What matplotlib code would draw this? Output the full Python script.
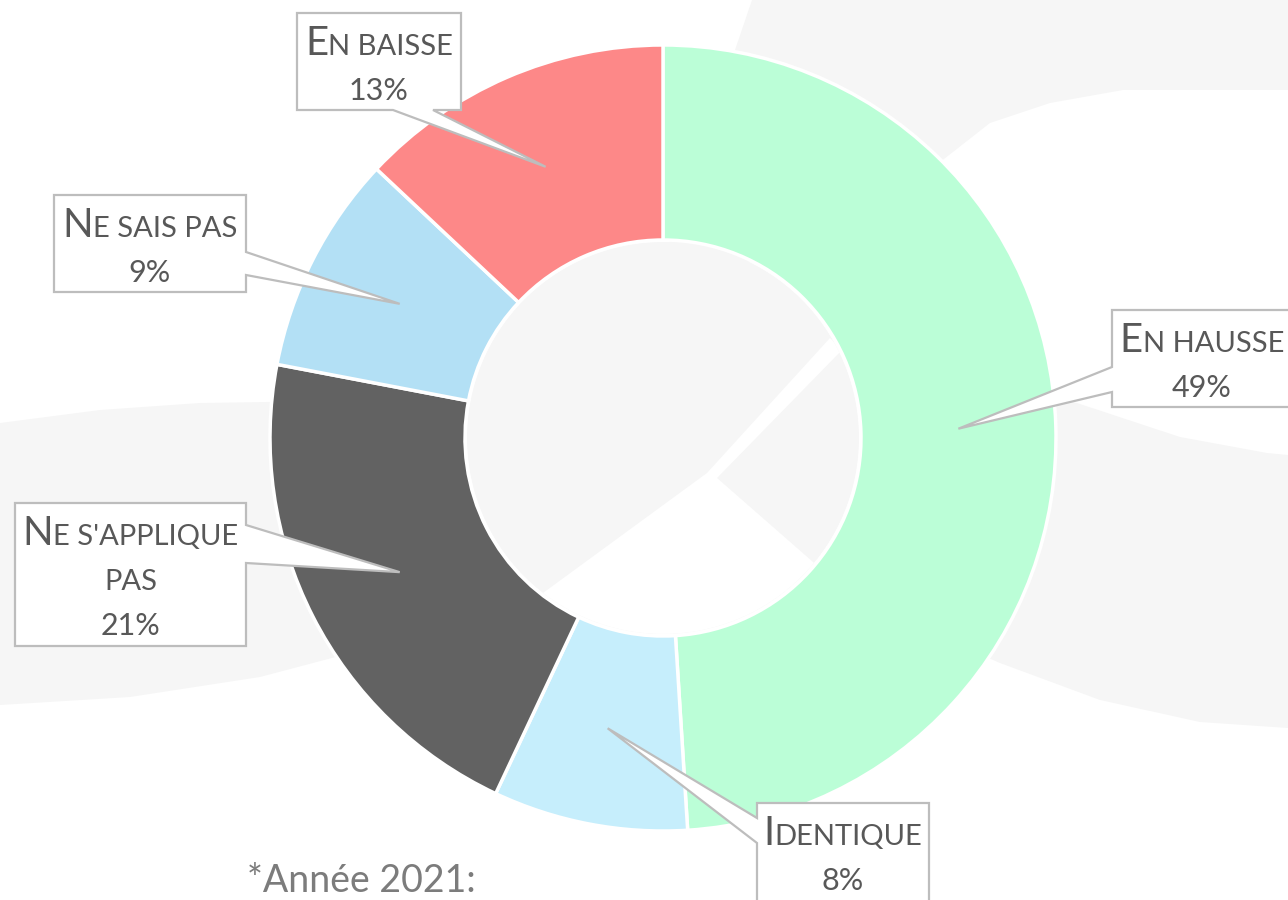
import matplotlib.pyplot as plt
from matplotlib.patches import Polygon, Circle
import numpy as np
import textwrap

# data
categories = ["En hausse", "Identique", "Ne s'applique pas", "Ne sais pas", "En baisse"]
values = [49, 8, 21, 9, 13]
colors = ["#bbfed7", "#c6eefc", "#626262", "#b3e0f5", "#fd8888"]
footnote = "*Année 2021:"

# layout (pixels, y going down)
W, H = 1288, 900
CX, CY = 663, 438
R_OUT, R_IN = 393, 198
# callout boxes: (left, top, right, bottom), side of pointer, base span on that side
boxes = {
    "En hausse": ((1112, 310, 1292, 407), "left", (367, 392)),
    "Identique": ((757, 803, 929, 910), "left", (818, 843)),
    "Ne s'applique pas": ((15, 503, 246, 646), "right", (525, 563)),
    "Ne sais pas": ((54, 195, 246, 292), "right", (252, 275)),
    "En baisse": ((297, 13, 461, 110), "bottom", (393, 433)),
}
TXT = "#585858"
EDGE = "#bdbdbd"
BG = "#f6f6f6"
FONT = "Lato"


def P(x, y):
    return (x, H - y)


def poly(pts, **kw):
    return Polygon([P(x, y) for x, y in pts], closed=True, **kw)


fig = plt.figure(figsize=(12.88, 9), dpi=100)
ax = fig.add_axes([0, 0, 1, 1])

# decorative background swooshes
ax.add_patch(poly([(0, 423), (100, 410), (200, 403), (400, 400), (400, 640),
                   (260, 677), (130, 697), (0, 705)], fc=BG, ec="none", zorder=0))
ax.add_patch(poly([(752, 0), (1288, 0), (1288, 90), (1123, 90), (1050, 103), (990, 123),
                   (930, 170), (892, 207), (650, 300)], fc=BG, ec="none", zorder=0))
ax.add_patch(poly([(950, 380), (1077, 403), (1180, 437), (1267, 453), (1288, 455),
                   (1288, 728), (1200, 722), (1100, 700), (1000, 663), (900, 620)],
                  fc=BG, ec="none", zorder=0))

# donut
wedges, _ = ax.pie(values, colors=colors, startangle=90, counterclock=False,
                   radius=R_OUT, center=P(CX, CY),
                   wedgeprops=dict(width=R_OUT - R_IN, edgecolor="white", linewidth=2.5))
for w in wedges:
    w.set_zorder(2)

hole = Circle(P(CX, CY), R_IN - 2, fc=BG, ec="none", zorder=1)
ax.add_patch(hole)
sw = poly([(470, 660), (543, 593), (707, 473), (830, 338), (842, 350), (717, 478),
           (813, 562), (900, 640), (900, 700), (470, 700)], fc="white", ec="none", zorder=1.5)
ax.add_patch(sw)
sw.set_clip_path(hole)

ax.set_xlim(0, W)
ax.set_ylim(0, H)
ax.set_aspect("auto")
ax.axis("off")

renderer = fig.canvas.get_renderer()


def draw_line(cx, base, parts):
    txts = [ax.text(0, H - base, s, fontsize=sz, va="baseline", ha="left",
                    color=TXT, family=FONT, zorder=5) for s, sz in parts]
    widths = [t.get_window_extent(renderer).width for t in txts]
    x = cx - sum(widths) / 2
    for t, w in zip(txts, widths):
        t.set_x(x)
        x += w


r_mid = (R_OUT + R_IN) / 2
for cat, val, w in zip(categories, values, wedges):
    mid = np.deg2rad((w.theta1 + w.theta2) / 2)
    tx, ty = CX + r_mid * np.cos(mid), CY - r_mid * np.sin(mid)
    (l, t, r, b), side, (a1, a2) = boxes[cat]
    if side == "left":
        pts = [(l, t), (r, t), (r, b), (l, b), (l, a2), (tx, ty), (l, a1)]
    elif side == "right":
        pts = [(l, t), (r, t), (r, a1), (tx, ty), (r, a2), (r, b), (l, b)]
    elif side == "bottom":
        pts = [(l, t), (r, t), (r, b), (a2, b), (tx, ty), (a1, b), (l, b)]
    else:
        pts = [(l, t), (a1, t), (tx, ty), (a2, t), (r, t), (r, b), (l, b)]
    ax.add_patch(poly(pts, fc="white", ec=EDGE, lw=1.6, joinstyle="miter", zorder=4))

    lines = textwrap.wrap(cat, 13)
    cxb = (l + r) / 2
    for k, ln in enumerate(lines):
        if k == 0:
            parts = [(ln[0], 29), (ln[1:].upper(), 21)]
        else:
            parts = [(ln.upper(), 21)]
        draw_line(cxb, t + 42 + 45 * k, parts)
    draw_line(cxb, t + 42 + 45 * len(lines), [(f"{val}%", 22)])

ax.text(247, H - 892, footnote, fontsize=27, color="#7c7c7c", family="Lato",
        va="baseline", ha="left", zorder=5)

fig.savefig("out.png", dpi=100)
